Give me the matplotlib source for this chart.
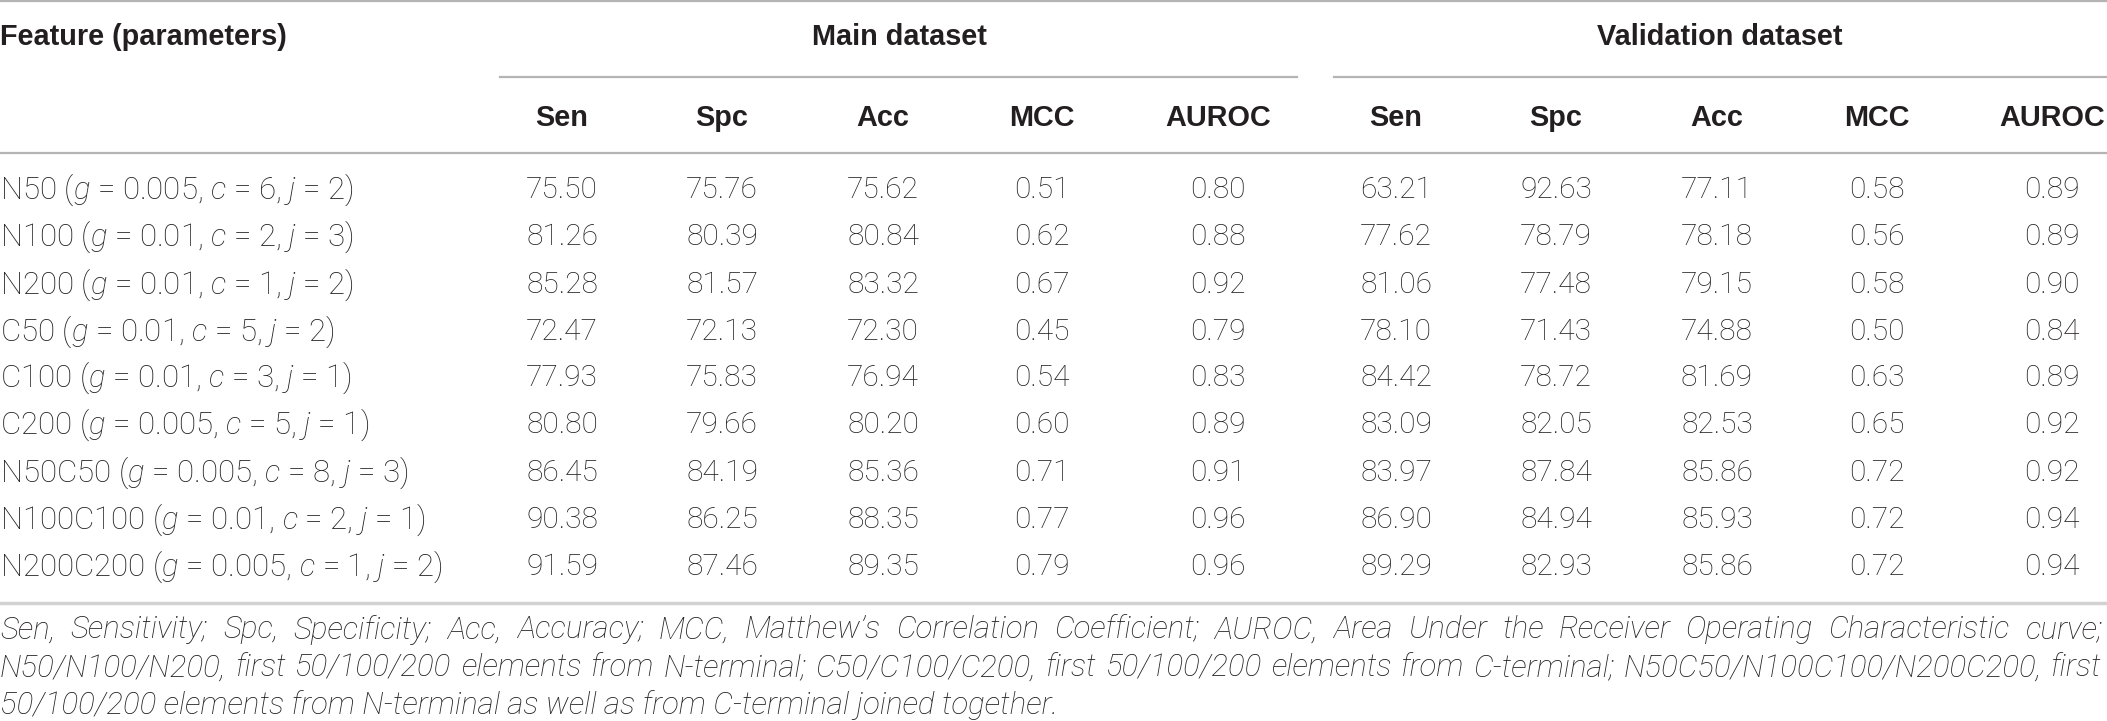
import matplotlib
matplotlib.use("Agg")
import matplotlib.pyplot as plt

plt.rcParams['mathtext.fontset'] = 'custom'
plt.rcParams['mathtext.rm'] = 'Roboto:light'
plt.rcParams['mathtext.it'] = 'Roboto:italic:light'

features = ["N50", "N100", "N200", "C50", "C100", "C200", "N50C50", "N100C100", "N200C200"]
g_vals = ["0.005", "0.01", "0.01", "0.01", "0.01", "0.005", "0.005", "0.01", "0.005"]
c_vals = [6, 2, 1, 5, 3, 5, 8, 2, 1]
j_vals = [2, 3, 2, 2, 1, 1, 3, 1, 2]

metrics = ["Sen", "Spc", "Acc", "MCC", "AUROC"]
main_sen = [75.50, 81.26, 85.28, 72.47, 77.93, 80.80, 86.45, 90.38, 91.59]
main_spc = [75.76, 80.39, 81.57, 72.13, 75.83, 79.66, 84.19, 86.25, 87.46]
main_acc = [75.62, 80.84, 83.32, 72.30, 76.94, 80.20, 85.36, 88.35, 89.35]
main_mcc = [0.51, 0.62, 0.67, 0.45, 0.54, 0.60, 0.71, 0.77, 0.79]
main_auroc = [0.80, 0.88, 0.92, 0.79, 0.83, 0.89, 0.91, 0.96, 0.96]
val_sen = [63.21, 77.62, 81.06, 78.10, 84.42, 83.09, 83.97, 86.90, 89.29]
val_spc = [92.63, 78.79, 77.48, 71.43, 78.72, 82.05, 87.84, 84.94, 82.93]
val_acc = [77.11, 78.18, 79.15, 74.88, 81.69, 82.53, 85.86, 85.93, 85.86]
val_mcc = [0.58, 0.56, 0.58, 0.50, 0.63, 0.65, 0.72, 0.72, 0.72]
val_auroc = [0.89, 0.89, 0.90, 0.84, 0.89, 0.92, 0.92, 0.94, 0.94]

footnote = [
    "Sen, Sensitivity; Spc, Specificity; Acc, Accuracy; MCC, Matthew\u2019s Correlation Coefficient; "
    "AUROC, Area Under the Receiver Operating Characteristic curve;",
    "N50/N100/N200, first 50/100/200 elements from N-terminal; C50/C100/C200, first 50/100/200 "
    "elements from C-terminal; N50C50/N100C100/N200C200, first",
    "50/100/200 elements from N-terminal as well as from C-terminal joined together.",
]

W, H = 2107, 721
fig = plt.figure(figsize=(W / 100, H / 100), dpi=100)
ax = fig.add_axes([0, 0, 1, 1])
ax.set_xlim(0, W)
ax.set_ylim(H, 0)
ax.axis("off")

ink = "#231f20"
rule = "#b4b4b4"
bold = dict(family="Liberation Sans", weight="bold", size=20.8, color=ink)
light = dict(family="Roboto", weight="light", size=21.5, color=ink)

col_x = [562, 722, 883, 1042, 1218, 1396, 1556, 1717, 1877, 2052]
row_y = [190, 237, 285, 332, 378, 425, 473, 520, 567]

# rules
ax.plot([0, W], [1, 1], color=rule, lw=1.6)
ax.plot([500, 1297], [77, 77], color=rule, lw=1.6)
ax.plot([1334, W], [77, 77], color=rule, lw=1.6)
ax.plot([0, W], [153, 153], color=rule, lw=1.6)
ax.plot([0, W], [603, 603], color="#d2d2d2", lw=2.5)

# headers
ax.text(0, 37, "Feature (parameters)", ha="left", va="center", **bold)
ax.text(899, 37, "Main dataset", ha="center", va="center", **bold)
ax.text(1720, 37, "Validation dataset", ha="center", va="center", **bold)
for k, name in enumerate(metrics * 2):
    ax.text(col_x[k], 118, name, ha="center", va="center", **bold)

# body
columns = [main_sen, main_spc, main_acc, main_mcc, main_auroc,
           val_sen, val_spc, val_acc, val_mcc, val_auroc]
for i, y in enumerate(row_y):
    label = f"{features[i]} ($g$ = {g_vals[i]}, $c$ = {c_vals[i]}, $j$ = {j_vals[i]})"
    ax.text(0, y, label, ha="left", va="center", family="Roboto", weight="light",
            size=22.5, color=ink)
    for k, col in enumerate(columns):
        ax.text(col_x[k], y, f"{col[i]:.2f}", ha="center", va="center", **light)

# footnote, first two lines justified
note = dict(family="Roboto", weight="light", style="italic", size=22.5, color=ink)
renderer = fig.canvas.get_renderer()
note_y = [630, 668, 705]
for n, line in enumerate(footnote):
    if n == len(footnote) - 1:
        ax.text(0, note_y[n], line, ha="left", va="center", **note)
        continue
    words = line.split(" ")
    texts = [ax.text(0, note_y[n], w, ha="left", va="center", **note) for w in words]
    widths = [t.get_window_extent(renderer).width for t in texts]
    gap = max((2102 - sum(widths)) / (len(words) - 1), 4)
    x = 0
    for t, w in zip(texts, widths):
        t.set_x(x)
        x += w + gap

fig.savefig("out.png", dpi=100)
